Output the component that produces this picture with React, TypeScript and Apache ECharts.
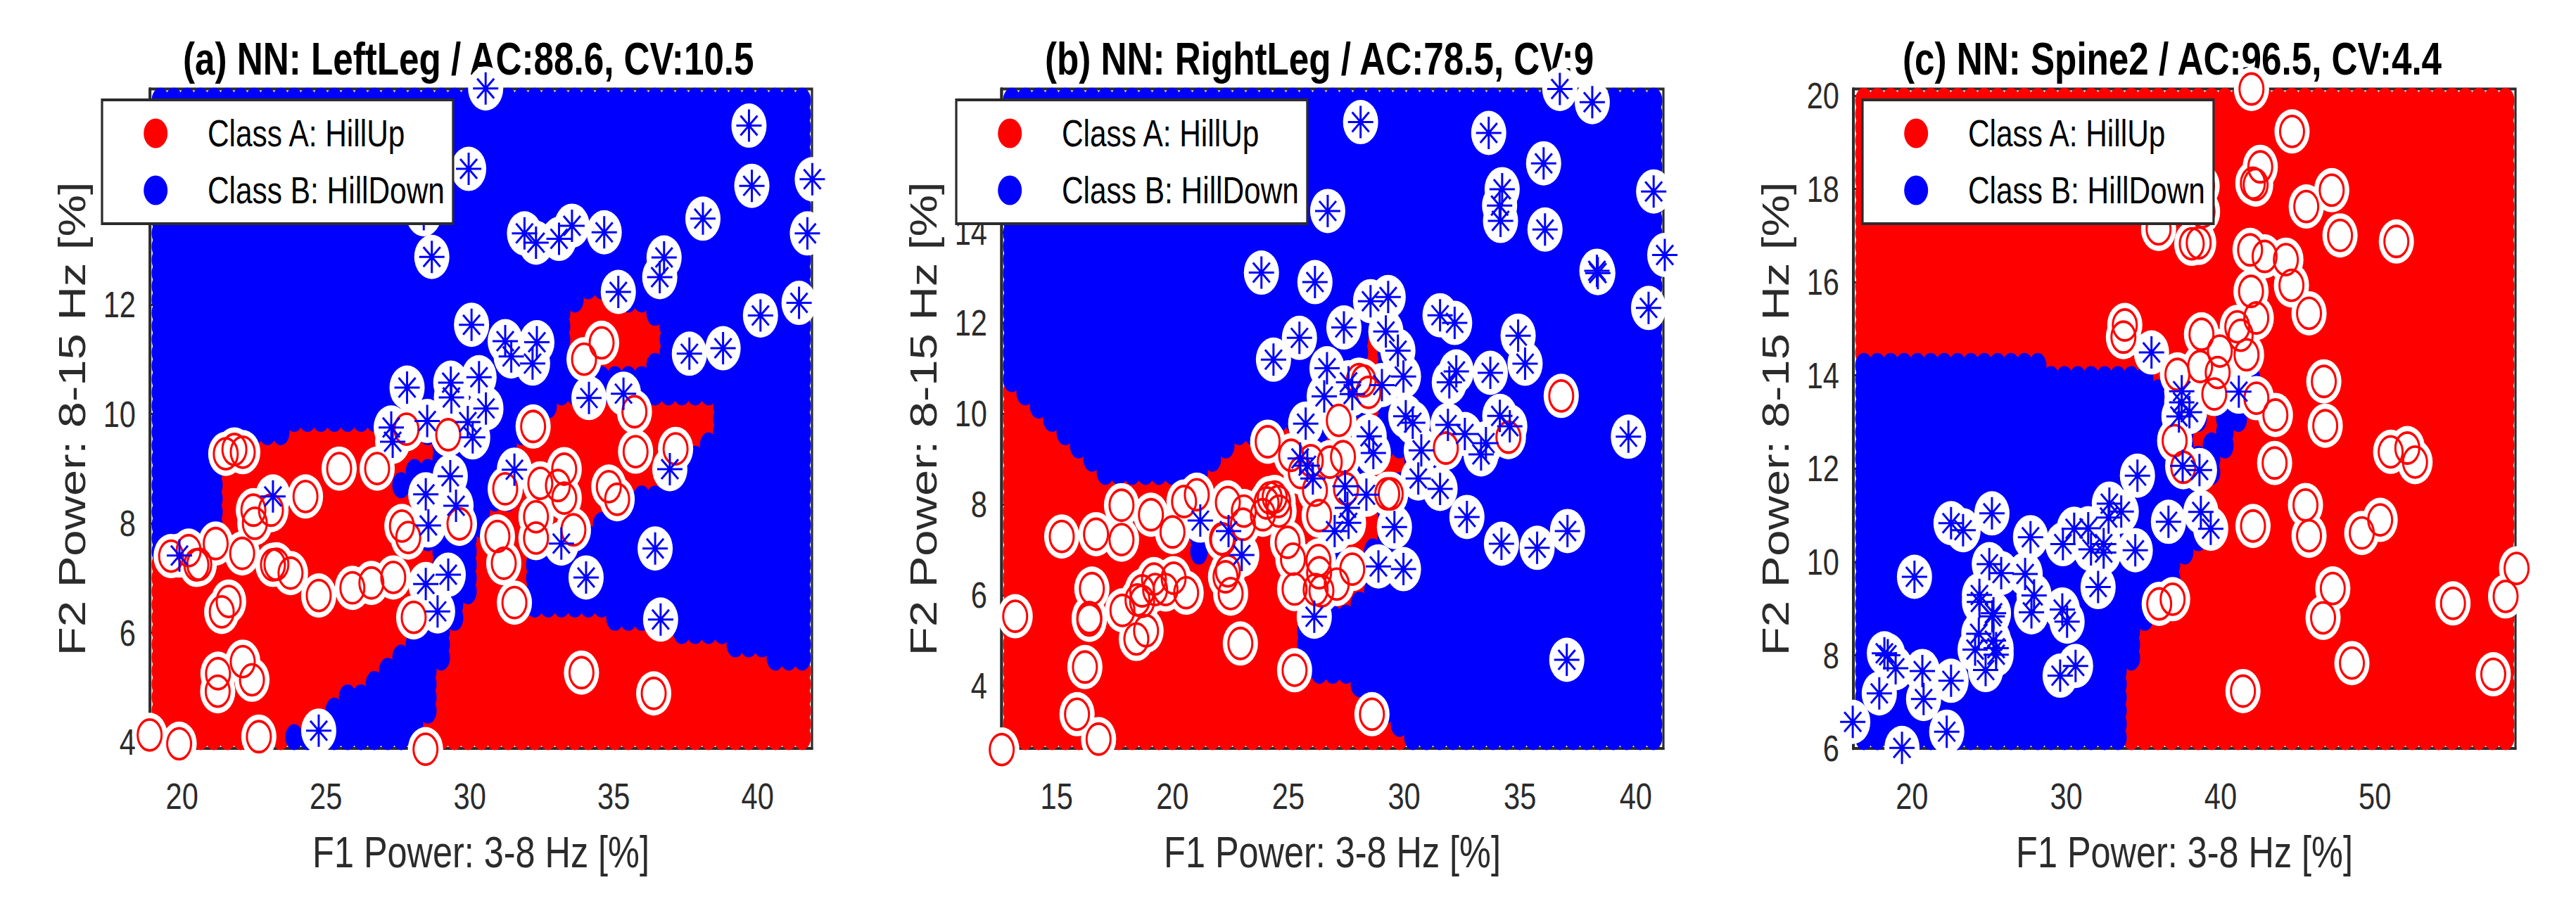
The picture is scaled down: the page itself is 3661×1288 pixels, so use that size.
import React, { useEffect, useRef } from "react";
import * as echarts from "echarts";

// ---------- data ----------
const classNames = ["Class A: HillUp", "Class B: HillDown"];
const xAxisTitle = "F1 Power: 3-8 Hz [%]";
const yAxisTitle = "F2 Power: 8-15 Hz [%]";

const titleA = "(a) NN: LeftLeg / AC:88.6, CV:10.5";
const titleB = "(b) NN: RightLeg / AC:78.5, CV:9";
const titleC = "(c) NN: Spine2 / AC:96.5, CV:4.4";

const xTicksA = [20, 25, 30, 35, 40];
const yTicksA = [4, 6, 8, 10, 12, 14];
const xTicksB = [15, 20, 25, 30, 35, 40];
const yTicksB = [4, 6, 8, 10, 12, 14, 16];
const xTicksC = [20, 30, 40, 50];
const yTicksC = [6, 8, 10, 12, 14, 16, 18, 20];

const xRangeA = [18.883, 41.89];
const yRangeA = [3.884, 15.94];
const xRangeB = [12.61, 41.19];
const yRangeB = [2.615, 17.16];
const xRangeC = [16.2, 59.11];
const yRangeC = [6.0, 20.14];

// Decision map: 49 x 49 classifier grid. One entry per row (bottom row first);
// each entry lists the column runs predicted as Class B, all others are Class A.
const ALL = [[0, 48]];
const blueRunsA = [
  [[10, 19]], [[13, 19]], [[13, 20]], [[14, 20]], [[16, 20]], [[17, 20]],
  [[18, 21], [46, 48]], [[19, 21], [43, 48]], [[20, 21], [39, 48]], [[20, 22], [34, 48]],
  [[21, 22], [28, 48]], [[21, 23], [28, 48]], [[21, 23], [28, 48]], [[21, 23], [28, 48]],
  [[0, 0], [21, 23], [28, 48]], [[0, 3], [20, 23], [30, 48]], [[0, 4], [20, 24], [33, 48]],
  [[0, 4], [20, 24], [35, 48]], [[0, 4], [20, 26], [36, 48]], [[0, 4], [18, 26], [38, 48]],
  [[0, 4], [19, 26], [39, 48]], [[0, 4], [21, 26], [40, 48]], [[0, 4], [21, 26], [41, 48]],
  [[0, 9], [18, 27], [42, 48]], [[0, 28], [42, 48]], [[0, 29], [42, 48]], ALL, ALL,
  [[0, 30], [37, 48]], [[0, 30], [38, 48]], [[0, 30], [38, 48]], [[0, 30], [38, 48]],
  [[0, 30], [37, 48]], [[0, 31], [34, 48]],
  ALL, ALL, ALL, ALL, ALL, ALL, ALL, ALL, ALL, ALL, ALL, ALL, ALL, ALL, ALL,
];
const blueRunsB = [
  [[30, 48]], [[29, 48]], [[28, 48]], [[27, 48]], [[26, 48]], [[23, 48]], [[22, 48]],
  [[22, 48]], [[22, 48]], [[24, 48]], [[26, 48]], [[27, 48]], [[28, 48]], [[28, 48]],
  [[14, 14], [24, 24], [27, 48]], [[14, 14], [28, 48]], [[14, 14], [28, 48]],
  [[14, 14], [28, 48]], [[14, 14], [28, 48]], [[14, 14], [28, 48]],
  [[7, 14], [26, 26], [30, 48]], [[6, 15], [30, 48]], [[5, 16], [28, 48]],
  [[4, 19], [23, 23], [28, 48]], [[3, 23], [28, 48]], [[2, 26], [28, 48]], [[1, 26], [28, 48]],
  [[0, 26], [28, 48]], [[0, 26], [28, 48]], [[0, 26], [28, 48]], [[0, 26], [28, 48]],
  ALL, ALL, ALL, ALL, ALL, ALL, ALL, ALL, ALL, ALL, ALL, ALL, ALL, ALL, ALL, ALL, ALL, ALL,
];
const blueRunsC = [
  [[0, 19]], [[0, 19]], [[0, 19]], [[0, 19]], [[0, 19]], [[0, 19]],
  [[0, 20]], [[0, 20]], [[0, 20]], [[0, 21]], [[0, 22]], [[0, 22]], [[0, 23]], [[0, 23]],
  [[0, 24]], [[0, 25]], [[0, 25]], [[0, 25]], [[0, 25]], [[0, 25]], [[0, 26]], [[0, 26]],
  [[0, 24], [26, 27]], [[0, 24], [27, 27]], [[0, 25], [27, 28]], [[0, 24], [27, 29]],
  [[0, 22], [27, 29]], [[0, 21], [29, 29]], [[0, 13]],
  [], [], [], [], [], [], [], [], [], [], [], [], [], [], [], [], [], [], [], [],
];

const hillUpA = [
  [18.875, 4.13], [19.9, 3.97], [22.67, 4.1], [28.46, 3.87], [33.88, 5.27], [36.39, 4.89],
  [22.11, 5.47], [21.25, 5.25], [21.24, 4.93], [22.43, 5.14], [21.38, 6.38], [21.62, 6.57],
  [31.55, 6.55], [28.05, 6.28], [24.75, 6.68], [25.92, 6.82], [26.58, 6.91], [27.34, 7.01],
  [23.77, 7.09], [23.16, 7.24], [23.28, 7.25], [22.09, 7.45], [21.17, 7.63], [20.5, 7.24],
  [20.6, 7.25], [19.62, 7.4], [20.23, 7.5], [22.53, 8.0], [22.48, 8.24], [23.09, 8.24],
  [24.29, 8.49], [25.46, 9.0], [26.78, 9.0], [27.64, 7.95], [27.86, 7.74], [29.64, 7.99],
  [27.8, 9.72], [29.25, 9.62], [21.52, 9.27], [21.82, 9.35], [22.11, 9.3], [32.2, 9.77],
  [34.58, 11.3], [33.97, 11.0], [35.72, 10.04], [35.76, 9.31], [37.15, 9.36], [33.28, 8.99],
  [32.45, 8.73], [33.06, 8.69], [33.28, 8.46], [31.23, 8.63], [34.83, 8.67], [35.12, 8.44],
  [32.3, 8.12], [32.3, 7.73], [33.6, 7.88], [30.96, 7.76], [31.18, 7.27],
];
const hillDownA = [
  [30.55, 15.95], [39.7, 15.27], [29.96, 14.48], [39.8, 14.17], [41.9, 14.29], [28.4, 13.65],
  [28.68, 12.87], [31.9, 13.3], [32.3, 13.13], [33.1, 13.2], [33.55, 13.44], [34.67, 13.32],
  [38.1, 13.57], [41.73, 13.3], [36.75, 12.86], [36.6, 12.5], [35.16, 12.23], [41.44, 12.03],
  [40.1, 11.8], [38.8, 11.2], [37.63, 11.1], [30.06, 11.63], [31.23, 11.33], [32.33, 11.31],
  [31.44, 11.05], [32.18, 10.92], [29.34, 10.57], [30.32, 10.67], [29.36, 10.3], [30.56, 10.1],
  [29.93, 9.85], [28.52, 9.87], [30.1, 9.57], [34.14, 10.29], [35.34, 10.37], [31.55, 8.98],
  [36.95, 8.99], [29.32, 8.86], [28.47, 8.53], [29.52, 8.32], [28.56, 7.96], [29.25, 7.06],
  [28.47, 6.89], [28.88, 6.39], [33.18, 7.63], [34.04, 7.01], [36.44, 7.54], [36.63, 6.24],
  [27.82, 10.48], [27.27, 9.75], [27.32, 9.49], [23.16, 8.49], [19.91, 7.41], [24.75, 4.21],
];
const hillUpB = [
  [12.63, 2.59], [15.88, 3.37], [16.81, 2.82], [16.22, 4.41], [13.21, 5.53], [16.52, 6.14],
  [16.41, 5.45], [16.41, 5.5], [22.93, 4.93], [25.27, 4.34], [28.61, 3.37], [15.22, 7.29],
  [16.7, 7.34], [17.8, 7.22], [17.8, 7.98], [19.07, 7.77], [20.0, 7.39], [20.5, 8.06],
  [21.05, 8.21], [22.39, 8.04], [23.08, 7.85], [23.04, 7.56], [23.9, 7.77], [22.14, 7.24],
  [22.18, 7.22], [24.11, 9.38], [25.12, 9.08], [24.2, 8.14], [24.41, 8.16], [24.56, 8.06],
  [24.6, 7.85], [24.06, 8.03], [25.54, 8.7], [25.97, 8.96], [26.15, 8.31], [26.79, 8.93],
  [27.36, 9.05], [27.18, 9.85], [26.33, 7.75], [27.49, 8.34], [24.97, 7.16], [25.2, 6.79],
  [26.3, 6.76], [26.33, 6.49], [25.27, 6.13], [26.18, 6.12], [26.43, 6.09], [27.09, 6.24],
  [27.76, 6.57], [22.29, 6.4], [22.39, 6.53], [22.51, 6.03], [17.84, 5.66], [18.49, 5.89],
  [18.69, 5.86], [18.69, 6.09], [19.2, 6.35], [19.25, 6.12], [19.7, 6.12], [20.05, 6.37],
  [20.59, 6.05], [18.86, 5.21], [18.44, 5.03], [36.78, 10.39], [31.8, 9.24], [34.5, 9.48],
  [29.27, 8.23], [29.42, 8.23], [28.05, 10.75], [28.25, 10.72], [28.46, 10.47],
];
const hillDownB = [
  [28.12, 16.43], [36.72, 17.16], [38.12, 16.87], [33.65, 16.19], [36.02, 15.52], [34.23, 14.95],
  [34.12, 14.59], [34.16, 14.25], [40.77, 14.9], [36.08, 14.06], [26.7, 14.47], [23.84, 13.11],
  [26.15, 12.9], [38.32, 13.15], [38.36, 13.1], [41.25, 13.5], [40.55, 12.33], [39.68, 9.49],
  [28.55, 12.48], [29.31, 12.57], [27.4, 11.9], [25.48, 11.67], [24.36, 11.19], [31.55, 12.17],
  [32.18, 12.0], [34.92, 11.72], [35.22, 11.1], [29.21, 11.81], [29.73, 11.39], [29.97, 10.82],
  [26.67, 11.0], [26.55, 10.38], [27.6, 10.69], [27.76, 10.43], [29.04, 10.63], [25.75, 9.78],
  [32.25, 10.93], [31.95, 10.69], [33.72, 10.9], [34.13, 9.95], [34.56, 9.72], [30.07, 9.94],
  [30.37, 9.8], [31.89, 9.75], [32.62, 9.55], [33.53, 9.35], [33.32, 9.1], [30.74, 9.19],
  [28.49, 9.5], [28.67, 9.13], [30.61, 8.57], [31.55, 8.34], [32.71, 7.72], [34.2, 7.13],
  [35.74, 7.04], [37.05, 7.41], [29.58, 7.5], [28.89, 6.63], [29.97, 6.57], [28.37, 8.21],
  [27.45, 8.4], [27.55, 7.92], [27.6, 7.59], [27.0, 7.41], [25.51, 9.01], [25.82, 8.85],
  [26.06, 8.57], [26.12, 5.52], [21.2, 7.64], [22.42, 7.41], [22.99, 6.88], [37.02, 4.57],
];
const hillUpC = [
  [42.0, 20.14], [44.63, 19.23], [42.57, 18.47], [42.09, 18.12], [42.27, 18.09], [38.8, 18.06],
  [38.83, 17.51], [35.98, 17.14], [45.55, 17.62], [47.2, 17.97], [47.74, 17.0], [51.39, 16.87],
  [38.13, 16.82], [38.58, 16.84], [41.91, 16.69], [42.85, 16.55], [44.23, 16.48], [44.59, 15.93],
  [41.97, 15.8], [45.73, 15.33], [42.31, 15.23], [33.79, 15.08], [33.7, 14.82], [38.76, 14.88],
  [41.08, 15.04], [41.3, 14.86], [41.68, 14.44], [39.95, 14.52], [38.67, 14.19], [37.2, 14.02],
  [39.81, 14.06], [39.59, 13.6], [42.32, 13.51], [43.55, 13.15], [37.02, 12.6], [37.58, 12.03],
  [46.69, 13.87], [46.78, 12.92], [43.5, 12.12], [42.1, 10.77], [45.5, 11.22], [45.73, 10.56],
  [49.15, 10.62], [50.34, 10.9], [51.02, 12.36], [52.1, 12.44], [52.6, 12.14], [47.27, 9.43],
  [46.64, 8.8], [36.02, 9.1], [36.89, 9.2], [55.06, 9.11], [58.47, 9.26], [59.18, 9.86],
  [48.51, 7.83], [57.67, 7.59], [41.45, 7.23],
];
const hillDownC = [
  [16.16, 6.57], [19.35, 6.01], [22.25, 6.36], [17.88, 7.18], [20.75, 7.06], [22.53, 7.45],
  [20.67, 7.66], [18.94, 7.72], [18.21, 8.04], [18.43, 8.0], [20.16, 9.68], [22.53, 10.83],
  [23.31, 10.68], [25.18, 11.04], [27.68, 10.53], [29.78, 10.38], [30.51, 10.71], [31.42, 10.72],
  [31.6, 10.27], [32.42, 10.38], [32.42, 10.2], [32.79, 11.25], [32.74, 10.95], [33.56, 11.08],
  [34.47, 10.25], [34.61, 11.85], [36.62, 10.86], [32.06, 9.46], [25.01, 9.95], [25.78, 9.76],
  [27.33, 9.74], [27.91, 9.28], [27.74, 8.92], [29.74, 8.98], [30.05, 8.72], [24.37, 9.29],
  [24.37, 9.14], [25.28, 8.9], [25.2, 8.83], [24.33, 8.46], [25.28, 8.31], [24.09, 8.12],
  [25.45, 8.15], [25.45, 8.01], [24.77, 7.68], [29.6, 7.56], [30.6, 7.77], [35.52, 14.49],
  [37.48, 13.66], [37.48, 13.42], [37.98, 13.21], [37.3, 13.12], [41.18, 13.65], [37.54, 12.06],
  [38.63, 11.97], [38.72, 11.07], [39.36, 10.71],
];

// ---------- drawing ----------
// The reference is a horizontally squeezed figure: the chart is laid out wider
// than the page and squeezed back with one CSS scale, so every text and mark narrows alike.
const SX = 0.8;
const FONT = '"Liberation Sans", Arial, sans-serif';
const INK = "#2b2b2b";
const RED = "#ff0000";
const BLUE = "#0000ff";

const GRID_TOP = 126.5;
const GRID_H = 937.5;
const GRID_W = 941;
const COL_OFFSET = 15;
const COL_STEP = 19.0;
const ROW_OFFSET = 16;
const ROW_STEP = 18.85;
const size = (w: number, h: number) => [w / SX, h];

const OVAL = "path://M0,1A1,1 0 1,1 2,1A1,1 0 1,1 0,1Z";
const ASTERISK =
  "path://M-18,-1.5L18,-1.5L18,1.5L-18,1.5Z" +
  "M-1.5,-23L1.5,-23L1.5,23L-1.5,23Z" +
  "M-10.86,-14.98L13.14,13.02L10.86,14.98L-13.14,-13.02Z" +
  "M10.86,-14.98L13.14,-13.02L-10.86,14.98L-13.14,13.02Z";

const panels = [
  { title: titleA, titleLeft: 260, left: 213, legendLeft: 145, xr: xRangeA, yr: yRangeA, xt: xTicksA, yt: yTicksA, runs: blueRunsA, up: hillUpA, down: hillDownA },
  { title: titleB, titleLeft: 1485, left: 1423, legendLeft: 1359, xr: xRangeB, yr: yRangeB, xt: xTicksB, yt: yTicksB, runs: blueRunsB, up: hillUpB, down: hillDownB },
  { title: titleC, titleLeft: 2704, left: 2634, legendLeft: 2647, xr: xRangeC, yr: yRangeC, xt: xTicksC, yt: yTicksC, runs: blueRunsC, up: hillUpC, down: hillDownC },
];

function buildCells(p: (typeof panels)[number]) {
  const red: number[][] = [];
  const blue: number[][] = [];
  const gx = (p.xr[1] - p.xr[0]) / GRID_W;
  const gy = (p.yr[1] - p.yr[0]) / GRID_H;
  p.runs.forEach((runs: number[][], r: number) => {
    for (let c = 0; c < 49; c++) {
      const pt = [p.xr[0] + (COL_OFFSET + c * COL_STEP) * gx, p.yr[0] + (ROW_OFFSET + r * ROW_STEP) * gy];
      if (runs.some(([a, b]) => c >= a && c <= b)) blue.push(pt);
      else red.push(pt);
    }
  });
  return { red, blue };
}

function buildOption() {
  const axisLabel = { color: INK, fontFamily: FONT, fontSize: 52, hideOverlap: false };
  return {
    animation: false,
    backgroundColor: "#ffffff",
    title: panels.map((p) => ({
      text: p.title,
      left: p.titleLeft / SX,
      top: 52,
      padding: 0,
      z: 1,
      textStyle: { fontFamily: FONT, fontWeight: "bold", fontSize: 64, color: "#000000" },
    })),
    legend: panels.map((p) => ({
      orient: "vertical",
      left: p.legendLeft / SX,
      top: 142,
      padding: [21, 15, 21, 74],
      itemGap: 28,
      itemWidth: 34 / SX,
      itemHeight: 42,
      icon: OVAL,
      symbolKeepAspect: false,
      selectedMode: false,
      backgroundColor: "#ffffff",
      borderColor: INK,
      borderWidth: 4,
      z: 10,
      data: classNames,
      textStyle: { fontFamily: FONT, fontSize: 53, color: "#000000", padding: [0, 0, 0, 66] },
    })),
    grid: panels.map((p) => ({
      show: true,
      left: p.left / SX,
      top: GRID_TOP,
      width: GRID_W / SX,
      height: GRID_H,
      backgroundColor: "transparent",
      borderColor: INK,
      borderWidth: 4,
      containLabel: false,
    })),
    xAxis: panels.map((p, i) => ({
      type: "value",
      gridIndex: i,
      min: p.xr[0],
      max: p.xr[1],
      name: xAxisTitle,
      nameLocation: "middle",
      nameGap: 115,
      nameMoveOverlap: false,
      nameTextStyle: { color: INK, fontFamily: FONT, fontSize: 63 },
      axisLine: { show: true, lineStyle: { color: INK, width: 4 } },
      axisTick: { show: true, inside: true, length: 9, lineStyle: { color: INK, width: 4 }, customValues: p.xt },
      axisLabel: { ...axisLabel, margin: 42, customValues: p.xt },
      splitLine: { show: false },
    })),
    yAxis: panels.map((p, i) => ({
      type: "value",
      gridIndex: i,
      min: p.yr[0],
      max: p.yr[1],
      name: yAxisTitle,
      nameLocation: "middle",
      nameGap: 105,
      nameMoveOverlap: false,
      nameTextStyle: { color: INK, fontFamily: FONT, fontSize: 67 },
      axisLine: { show: true, lineStyle: { color: INK, width: 5 } },
      axisTick: { show: true, inside: true, length: 11, lineStyle: { color: INK, width: 3 }, customValues: p.yt },
      axisLabel: { ...axisLabel, margin: 25, customValues: p.yt },
      splitLine: { show: false },
    })),
    series: panels.flatMap((p, i) => {
      const cells = buildCells(p);
      const common = { type: "scatter", xAxisIndex: i, yAxisIndex: i, silent: true, clip: false };
      return [
        { ...common, name: classNames[0], data: cells.red, symbol: OVAL, symbolSize: size(25, 37), symbolKeepAspect: false, itemStyle: { color: RED, opacity: 1 }, z: 2 },
        { ...common, name: classNames[1], data: cells.blue, symbol: OVAL, symbolSize: size(25, 37), symbolKeepAspect: false, itemStyle: { color: BLUE, opacity: 1 }, z: 2 },
        { ...common, name: "halo", data: [...p.up, ...p.down], symbol: OVAL, symbolSize: size(50, 63), itemStyle: { color: "#ffffff", opacity: 1 }, z: 3 },
        { ...common, name: "ringA", data: p.up, symbol: OVAL, symbolSize: size(34, 44), itemStyle: { color: "transparent", borderColor: RED, borderWidth: 3.8, opacity: 1 }, z: 3 },
        { ...common, name: "starB", data: p.down, symbol: ASTERISK, symbolSize: size(36, 46), itemStyle: { color: BLUE, opacity: 1 }, z: 3 },
      ];
    }),
  };
}

export default function App() {
  const ref = useRef<HTMLDivElement>(null);
  useEffect(() => {
    if (!ref.current) return;
    const chart = echarts.init(ref.current, null, { renderer: "svg" });
    chart.setOption(buildOption() as any);
    return () => chart.dispose();
  }, []);
  return (
    <div
      ref={ref}
      style={{
        position: "absolute",
        left: 0,
        top: 0,
        width: 3661 / SX,
        height: 1288,
        background: "#fff",
        transform: `scaleX(${SX})`,
        transformOrigin: "0 0",
      }}
    />
  );
}
